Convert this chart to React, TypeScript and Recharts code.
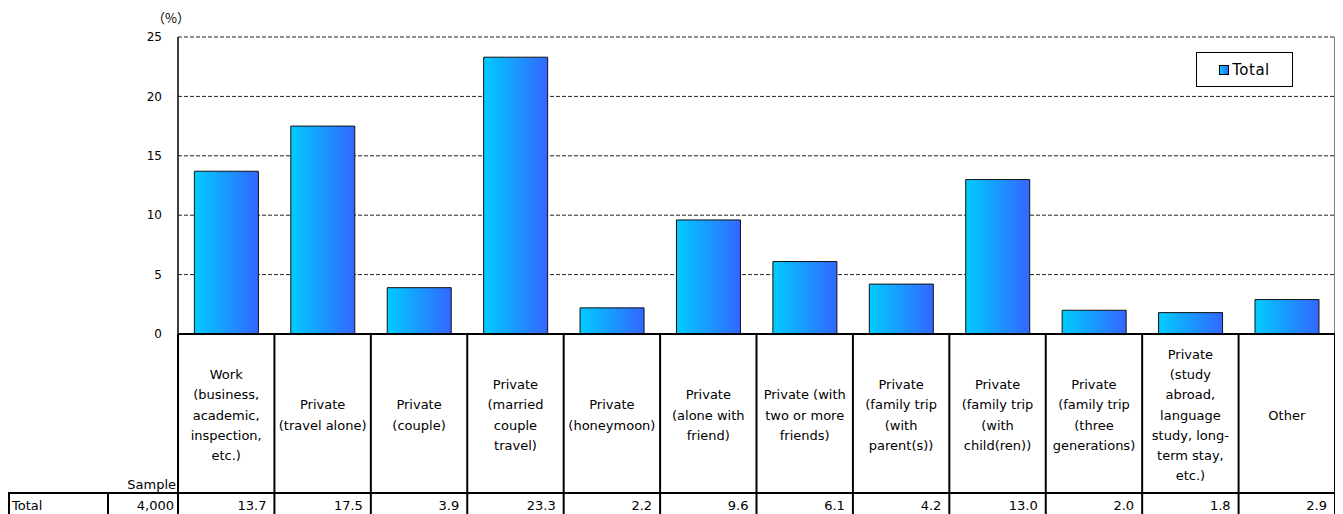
import React from 'react';
import { BarChart, Bar, XAxis, YAxis, CartesianGrid, Legend } from 'recharts';

const categories: string[] = [
  'Work\n(business,\nacademic,\ninspection,\netc.)',
  'Private\n(travel alone)',
  'Private\n(couple)',
  'Private\n(married\ncouple\ntravel)',
  'Private\n(honeymoon)',
  'Private\n(alone with\nfriend)',
  'Private (with\ntwo or more\nfriends)',
  'Private\n(family trip\n(with\nparent(s))',
  'Private\n(family trip\n(with\nchild(ren))',
  'Private\n(family trip\n(three\ngenerations)',
  'Private\n(study\nabroad,\nlanguage\nstudy, long-\nterm stay,\netc.)',
  'Other',
];
const totalValues: number[] = [13.7, 17.5, 3.9, 23.3, 2.2, 9.6, 6.1, 4.2, 13.0, 2.0, 1.8, 2.9];
const yTicks: number[] = [0, 5, 10, 15, 20, 25];
const seriesName = 'Total';
const rowLabel = 'Total';
const sampleLabel = 'Sample';
const sampleSize = 4000;
const unitLabel = '（%）';

const data = categories.map((c, i) => ({ category: c, total: totalValues[i] }));

const FONT = '"DejaVu Sans", sans-serif';

const CategoryTick = (props: any) => {
  const { x, y, payload, index, width, visibleTicksCount } = props;
  const half = payload && payload.offset ? payload.offset : width / (visibleTicksCount || 12) / 2;
  const left = x - half;
  const right = x + half;
  const lines = String(payload.value).split('\n');
  const lh = 20.3;
  const cy = y + 81;
  const rowTop = y + 159;
  const bottom = y + 200;
  const rowBase = rowTop + 17;
  return (
    <g>
      <line x1={right} x2={right} y1={y} y2={bottom} stroke="#000" strokeWidth={2} />
      <line x1={left} x2={right} y1={rowTop} y2={rowTop} stroke="#000" strokeWidth={2} />
      {index === 0 && (
        <g>
          <line x1={left} x2={left} y1={y} y2={bottom} stroke="#000" strokeWidth={2} />
          <line x1={left - 169} x2={left - 169} y1={rowTop} y2={bottom} stroke="#000" strokeWidth={2} />
          <line x1={left - 70} x2={left - 70} y1={rowTop} y2={bottom} stroke="#000" strokeWidth={2} />
          <line x1={left - 170} x2={left} y1={rowTop} y2={rowTop} stroke="#000" strokeWidth={2} />
          <text x={left - 2} y={rowTop - 4} textAnchor="end" fontFamily={FONT} fontSize={13} fill="#000">{sampleLabel}</text>
          <text x={left - 166} y={rowBase} textAnchor="start" fontFamily={FONT} fontSize={13} fill="#000">{rowLabel}</text>
          <text x={left - 4} y={rowBase} textAnchor="end" fontFamily={FONT} fontSize={13} fill="#000">{sampleSize.toLocaleString('en-US')}</text>
        </g>
      )}
      <text textAnchor="middle" fontFamily={FONT} fontSize={13} fill="#000">
        {lines.map((ln, i) => (
          <tspan key={i} x={x} y={cy - ((lines.length - 1) * lh) / 2 + i * lh + 4.5}>{ln}</tspan>
        ))}
      </text>
      <text x={right - 8} y={rowBase} textAnchor="end" fontFamily={FONT} fontSize={13} fill="#000">
        {totalValues[index].toFixed(1)}
      </text>
    </g>
  );
};

const LegendBox = () => (
  <div
    style={{
      boxSizing: 'border-box',
      width: 97,
      height: 35,
      border: '1px solid #000',
      background: '#fff',
      display: 'flex',
      alignItems: 'center',
      justifyContent: 'center',
      fontFamily: FONT,
      fontSize: 15,
      letterSpacing: 0.5,
      color: '#000',
    }}
  >
    <span
      style={{
        display: 'inline-block',
        boxSizing: 'border-box',
        width: 10,
        height: 10,
        border: '1px solid #000',
        background: 'linear-gradient(90deg, #00ccff, #3366ff)',
        marginRight: 3,
      }}
    />
    {seriesName}
  </div>
);

const UnitLabel = (props: any) => {
  const vb = props.viewBox || { x: 110, y: 29, width: 60 };
  return (
    <text x={vb.x + vb.width - 7} y={vb.y - 14} textAnchor="middle" fontFamily='"Noto Sans CJK JP", sans-serif' fontSize={13} fill="#000">
      {unitLabel}
    </text>
  );
};

export default function App() {
  return (
    <BarChart
      width={1335}
      height={506}
      data={data}
      margin={{ top: 29, right: 7, bottom: 0, left: 110 }}
      barCategoryGap="17%"
    >
      <defs>
        <linearGradient id="barGrad" x1="0" y1="0" x2="1" y2="0">
          <stop offset="0%" stopColor="#00ccff" />
          <stop offset="100%" stopColor="#3366ff" />
        </linearGradient>
      </defs>
      <CartesianGrid yAxisId="left" vertical={false} stroke="#222" strokeDasharray="4 2" />
      <XAxis
        dataKey="category"
        height={180}
        interval={0}
        tickLine={false}
        tickSize={0}
        tickMargin={0}
        axisLine={{ stroke: '#000', strokeWidth: 2 }}
        tick={<CategoryTick />}
      />
      <YAxis
        yAxisId="left"
        width={60}
        domain={[0, 25]}
        ticks={yTicks}
        interval={0}
        tickLine={false}
        tickSize={0}
        tickMargin={16}
        axisLine={{ stroke: '#000', strokeWidth: 1.5 }}
        tick={{ fontFamily: FONT, fontSize: 12, fill: '#000' }}
        label={<UnitLabel />}
      />
      <YAxis
        yAxisId="right"
        orientation="right"
        width={1}
        domain={[0, 25]}
        ticks={yTicks}
        tick={false}
        tickLine={false}
        axisLine={{ stroke: '#000', strokeWidth: 1 }}
      />
      <Legend
        verticalAlign="middle"
        align="center"
        layout="horizontal"
        wrapperStyle={{ top: 44, left: 1188, width: 97, height: 35 }}
        content={<LegendBox />}
      />
      <Bar
        yAxisId="left"
        dataKey="total"
        name={seriesName}
        fill="url(#barGrad)"
        stroke="#111"
        strokeWidth={1}
        isAnimationActive={false}
      />
    </BarChart>
  );
}
